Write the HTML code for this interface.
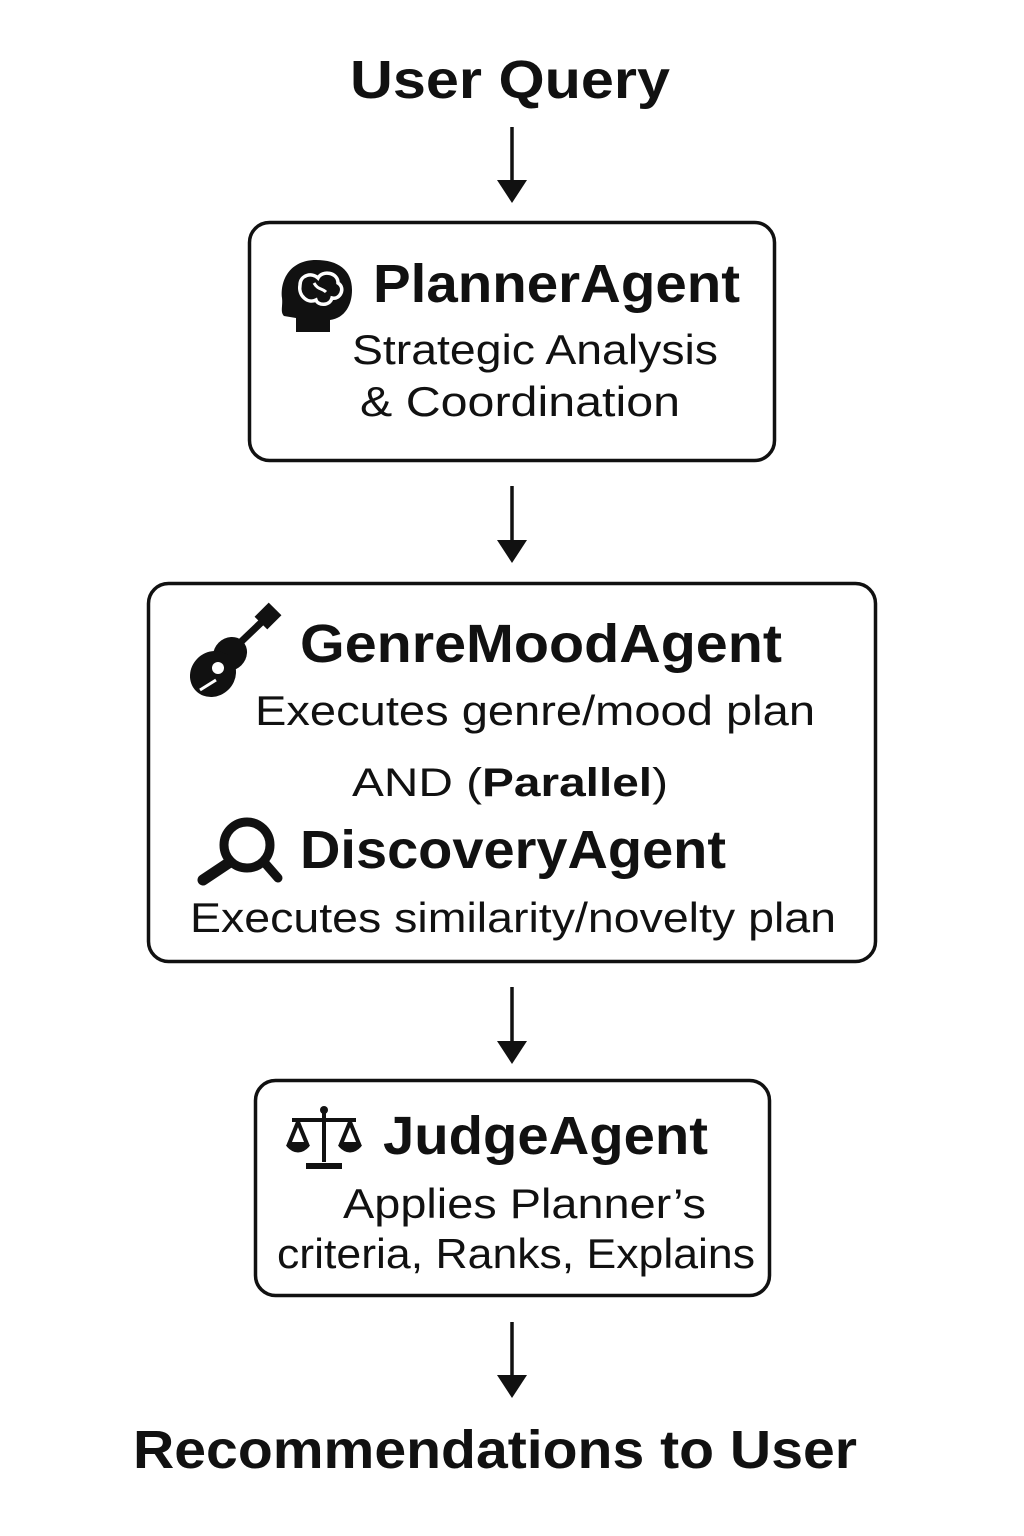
<!DOCTYPE html>
<html><head><meta charset="utf-8"><style>
html,body{margin:0;padding:0;background:#fff;}
svg{display:block;}
text{font-family:"Liberation Sans",sans-serif;fill:#111;}
</style></head><body>
<svg width="1024" height="1536" viewBox="0 0 1024 1536" xmlns="http://www.w3.org/2000/svg">
<defs><marker id="ah" markerWidth="10" markerHeight="10" refX="5" refY="5" orient="auto" markerUnits="userSpaceOnUse"></marker></defs>
<g stroke="#111" stroke-width="3.5" fill="#fff">
<rect x="249.5" y="222.5" width="525" height="238" rx="20"/>
<rect x="148.5" y="583.5" width="727" height="378" rx="20"/>
<rect x="255.5" y="1080.5" width="514" height="215" rx="20"/>
</g>
<!-- arrows -->
<g stroke="#111" stroke-width="3.5">
<line x1="512" y1="127" x2="512" y2="185"/>
<line x1="512" y1="486" x2="512" y2="545"/>
<line x1="512" y1="987" x2="512" y2="1046"/>
<line x1="512" y1="1322" x2="512" y2="1380"/>
</g>
<g fill="#111">
<polygon points="497,180 527,180 512,203"/>
<polygon points="497,540 527,540 512,563"/>
<polygon points="497,1041 527,1041 512,1064"/>
<polygon points="497,1375 527,1375 512,1398"/>
</g>
<!-- text -->
<text x="350" y="98" font-size="54" font-weight="bold" textLength="320" lengthAdjust="spacingAndGlyphs">User Query</text>
<text x="373" y="302" font-size="54" font-weight="bold" textLength="367" lengthAdjust="spacingAndGlyphs">PlannerAgent</text>
<text x="352" y="364" font-size="42" textLength="366" lengthAdjust="spacingAndGlyphs">Strategic Analysis</text>
<text x="360" y="416" font-size="42" textLength="320" lengthAdjust="spacingAndGlyphs">&amp; Coordination</text>
<text x="300" y="662" font-size="54" font-weight="bold" textLength="482" lengthAdjust="spacingAndGlyphs">GenreMoodAgent</text>
<text x="255" y="725" font-size="42" textLength="560" lengthAdjust="spacingAndGlyphs">Executes genre/mood plan</text>
<text x="352" y="796" font-size="40" textLength="316" lengthAdjust="spacingAndGlyphs">AND (<tspan font-weight="bold">Parallel</tspan>)</text>
<text x="300" y="868" font-size="54" font-weight="bold" textLength="426" lengthAdjust="spacingAndGlyphs">DiscoveryAgent</text>
<text x="190" y="932" font-size="42" textLength="646" lengthAdjust="spacingAndGlyphs">Executes similarity/novelty plan</text>
<text x="383" y="1154" font-size="54" font-weight="bold" textLength="325" lengthAdjust="spacingAndGlyphs">JudgeAgent</text>
<text x="343" y="1218" font-size="42" textLength="363" lengthAdjust="spacingAndGlyphs">Applies Planner’s</text>
<text x="277" y="1268" font-size="42" textLength="478" lengthAdjust="spacingAndGlyphs">criteria, Ranks, Explains</text>
<text x="133" y="1468" font-size="54" font-weight="bold" textLength="724" lengthAdjust="spacingAndGlyphs">Recommendations to User</text>
<!-- brain head icon -->
<g>
<path d="M316,260 C290,260 280,280 282,298 C283,306 280,312 284,316 L296,318 L296,332 L330,332 L330,320 C345,318 352,305 352,290 C352,270 338,260 316,260 Z" fill="#111"/>
<path d="M300,285 C300,275 312,272 318,278 C322,270 338,272 338,283 C346,288 340,300 332,298 C330,306 318,306 316,300 C308,304 298,296 300,285 Z" fill="none" stroke="#fff" stroke-width="3.5"/>
<path d="M314,283 C318,290 322,288 326,292" fill="none" stroke="#fff" stroke-width="3"/>
</g>
<!-- guitar icon -->
<g>
<line x1="222" y1="660" x2="268" y2="616" stroke="#111" stroke-width="7"/>
<rect x="259" y="606" width="18" height="20" transform="rotate(45 268 616)" fill="#111"/>
<ellipse cx="230" cy="654" rx="18" ry="16" transform="rotate(-45 230 654)" fill="#111"/>
<ellipse cx="213" cy="674" rx="24" ry="22" transform="rotate(-45 213 674)" fill="#111"/>
<circle cx="218" cy="668" r="6" fill="#fff"/>
<line x1="200" y1="690" x2="216" y2="680" stroke="#fff" stroke-width="3"/>
</g>
<!-- magnifier -->
<g fill="none" stroke="#111">
<circle cx="247" cy="845" r="23" stroke-width="9"/>
<line x1="230" y1="862" x2="203" y2="880" stroke-width="11" stroke-linecap="round"/>
<line x1="264" y1="862" x2="278" y2="878" stroke-width="9" stroke-linecap="round"/>
</g>
<!-- scales -->
<g stroke="#111" stroke-width="4" fill="none">
<line x1="324" y1="1108" x2="324" y2="1162"/>
<line x1="292" y1="1120" x2="356" y2="1120"/>
<line x1="306" y1="1166" x2="342" y2="1166" stroke-width="6"/>
<polyline points="298,1122 289,1144 307,1144 298,1122"/>
<polyline points="350,1122 341,1144 359,1144 350,1122"/>
<path d="M288,1145 Q298,1156 308,1145" fill="#111"/>
<path d="M340,1145 Q350,1156 360,1145" fill="#111"/>
</g>
<circle cx="324" cy="1110" r="4" fill="#111"/>
</svg>
</body></html>
